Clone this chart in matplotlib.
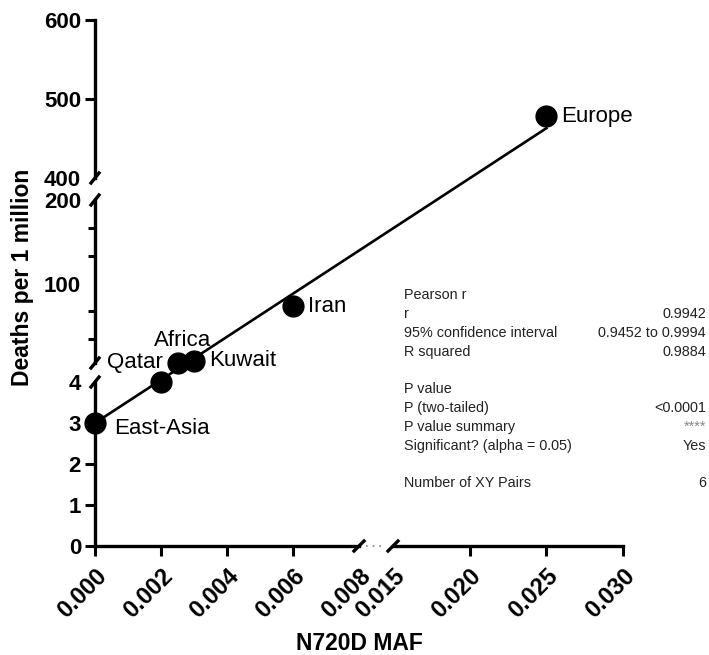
import matplotlib.pyplot as plt
from matplotlib.lines import Line2D

plt.rcParams['font.family'] = ['Liberation Sans', 'DejaVu Sans']

# Datos
regions = ['East-Asia', 'Qatar', 'Africa', 'Kuwait', 'Iran', 'Europe']
maf = [0.0, 0.002, 0.0025, 0.003, 0.006, 0.025]
deaths = [3, 4, 5.5, 7.5, 73, 478]

# recta dibujada por el programa original (de East-Asia hasta Europe)
fit_x = [0.0, 0.025]
fit_y = [3.0, 463.0]

# ejes partidos
x_segs = [(0.0, 0.008), (0.015, 0.030)]
y_segs = [(0, 4), (5, 200), (400, 600)]
x_ticks = [[0.000, 0.002, 0.004, 0.006, 0.008], [0.015, 0.020, 0.025, 0.030]]
y_ticks = [[0, 1, 2, 3, 4], [100, 200], [400, 500, 600]]
y_minor = [[], [100 / 3, 200 / 3, 400 / 3, 500 / 3], []]

stats_rows = [
    ('Pearson r', ''),
    ('r', '0.9942'),
    ('95% confidence interval', '0.9452 to 0.9994'),
    ('R squared', '0.9884'),
    ('P value', ''),
    ('P (two-tailed)', '<0.0001'),
    ('P value summary', '****'),
    ('Significant? (alpha = 0.05)', 'Yes'),
    ('Number of XY Pairs', '6'),
]
stats_y = [295, 314, 333, 352, 389, 408, 427, 446, 483]

# etiquetas: desplazamiento (pt) y alineacion
label_pos = {
    'East-Asia': ((14, -4), 'left', 'center'),
    'Qatar': ((1, 14), 'right', 'center'),
    'Africa': ((4, 16), 'center', 'center'),
    'Kuwait': ((11, 0), 'left', 'center'),
    'Iran': ((11, 0), 'left', 'center'),
    'Europe': ((11, 0), 'left', 'center'),
}

W, H = 709, 655
fig = plt.figure(figsize=(W / 100, H / 100), dpi=100)

col_px = [(95, 359), (393, 623)]
row_px = [(546, 382), (363, 200), (178, 20)]

axes = {}
for r, (yb, yt) in enumerate(row_px):
    for c, (xl, xr) in enumerate(col_px):
        ax = fig.add_axes([xl / W, 1 - yb / H, (xr - xl) / W, (yb - yt) / H])
        ax.set_xlim(*x_segs[c])
        ax.set_ylim(*y_segs[r])
        ax.patch.set_visible(False)
        for s in ['top', 'right', 'left', 'bottom']:
            ax.spines[s].set_visible(False)
        ax.tick_params(which='both', direction='out', width=2.2, length=7,
                       labelsize=16, pad=3)
        ax.tick_params(which='minor', length=5)
        ax.tick_params(axis='x', labelsize=17, pad=6)
        if c == 0:
            ax.spines['left'].set_visible(True)
            ax.spines['left'].set_linewidth(2.4)
            ax.set_yticks(y_ticks[r])
            ax.set_yticks(y_minor[r], minor=True)
            ax.set_yticklabels([str(v) for v in y_ticks[r]], fontweight='bold')
            # sin marca en el corte
            ax.yaxis.get_major_ticks()[-1 if r == 0 else 0].tick1line.set_visible(False)
            if r == 1:
                ax.yaxis.get_major_ticks()[-1].tick1line.set_visible(False)
        else:
            ax.set_yticks([])
        if r == 0:
            ax.spines['bottom'].set_visible(True)
            ax.spines['bottom'].set_linewidth(2.4)
            ax.set_xticks(x_ticks[c])
            ax.set_xticklabels([f'{v:.3f}' for v in x_ticks[c]], fontweight='bold',
                               rotation=45, ha='right', rotation_mode='anchor')
            cut = -1 if c == 0 else 0
            ax.xaxis.get_major_ticks()[cut].tick1line.set_visible(False)
        else:
            ax.set_xticks([])
        axes[(r, c)] = ax

        # puntos dentro de este tramo
        for name, xv, yv in zip(regions, maf, deaths):
            if x_segs[c][0] <= xv <= x_segs[c][1] and y_segs[r][0] <= yv <= y_segs[r][1]:
                ax.plot(xv, yv, 'o', color='black', markersize=15, clip_on=False, zorder=5)
                off, ha, va = label_pos[name]
                ax.annotate(name, (xv, yv), xytext=off, textcoords='offset points',
                            ha=ha, va=va, fontsize=16, annotation_clip=False)

to_fig = fig.transFigure.inverted()

# recta
p0 = axes[(0, 0)].transData.transform((fit_x[0], fit_y[0]))
p1 = axes[(2, 1)].transData.transform((fit_x[1], fit_y[1]))
f0, f1 = to_fig.transform(p0), to_fig.transform(p1)
fig.add_artist(Line2D([f0[0], f1[0]], [f0[1], f1[1]], color='black', lw=1.9,
                      transform=fig.transFigure))


def slash(px, py, dx=5, dy=5):
    a = (px - dx, H - (py + dy))
    b = (px + dx, H - (py - dy))
    fig.add_artist(Line2D([a[0] / W, b[0] / W], [a[1] / H, b[1] / H],
                          color='black', lw=2.4, transform=fig.transFigure))


# cortes eje y
for py in [382, 363, 200, 178]:
    slash(95, py, 4, 5)
# cortes eje x
slash(359, 546)
slash(393, 546)
fig.add_artist(Line2D([366 / W, 386 / W], [1 - 546 / H, 1 - 546 / H], color='grey',
                      lw=1.2, ls=(0, (1, 3)), transform=fig.transFigure))

fig.text(23 / W, 1 - 277 / H, 'Deaths per 1 million', rotation=90, fontsize=16.5,
         fontweight='bold', ha='center', va='center')
fig.text(359 / W, 1 - 643 / H, 'N720D MAF', fontsize=16.5, fontweight='bold',
         ha='center', va='center')

for (left, right), yy in zip(stats_rows, stats_y):
    fig.text(404 / W, 1 - yy / H, left, fontsize=10.4, color='#222222', ha='left', va='center')
    if right:
        col = '#888888' if right == '****' else '#222222'
        fig.text(706 / W, 1 - yy / H, right, fontsize=10.4, color=col, ha='right', va='center')

fig.savefig('out.png', dpi=100)
